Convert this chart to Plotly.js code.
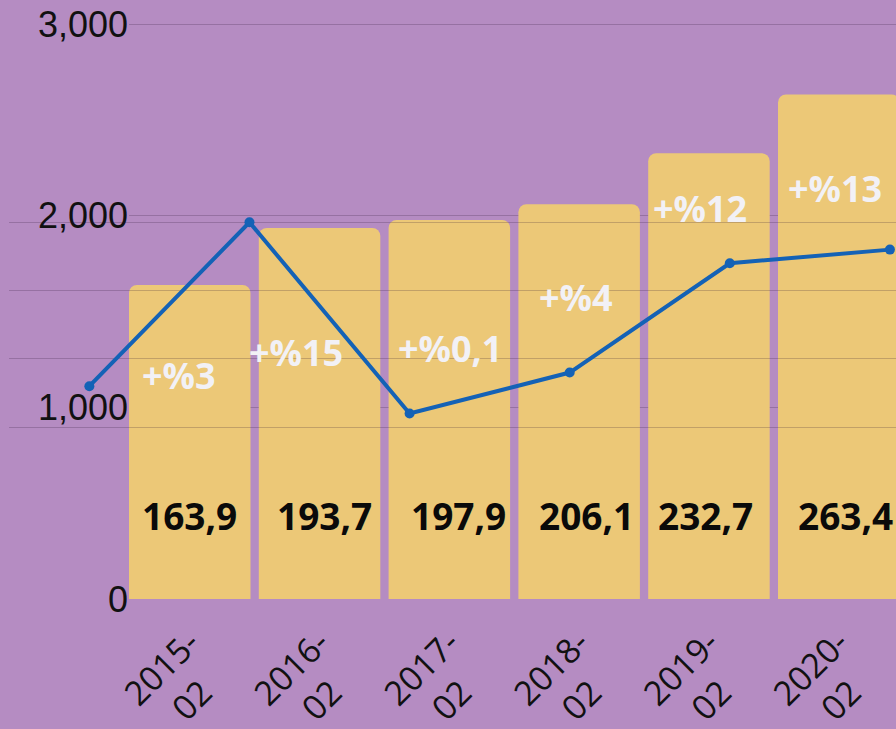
<!DOCTYPE html>
<html>
<head>
<meta charset="utf-8">
<script src="https://cdn.plot.ly/plotly-3.0.1.min.js"></script>
<style>
  html, body { margin: 0; padding: 0; background: #b58cc2; }
  #chart { width: 896px; height: 729px; }
</style>
</head>
<body>
<div id="chart"></div>
<script>
// ---- data ----
const categories = ['2015-02', '2016-02', '2017-02', '2018-02', '2019-02', '2020-02'];
const barValues  = [1639, 1937, 1979, 2061, 2327, 2634];
const lineValues = [3, 15, 1, 4, 12, 13];
const pctLabels  = ['+%3', '+%15', '+%0,1', '+%4', '+%12', '+%13'];
const yTicks     = [0, 1000, 2000, 3000];
const y2Ticks    = [0, 5, 10, 15];

// ---- label placement (layout only) ----
const pctLabelPos = [[-0.083, 1169], [0.819, 1289], [2.005, 1310], [2.976, 1576], [3.931, 2040], [4.971, 2144]];
const barLabelShift = [0, 5, 9, 7, -3, 7];
const barLabelY = 436;

const purple = '#b58cc2';
const gold = '#ecc877';
const blue = '#1462b6';
const grid = 'rgba(40,20,50,0.22)';

const barTrace = {
  type: 'bar',
  x: categories,
  y: barValues,
  xaxis: 'x',
  yaxis: 'y',
  marker: { color: gold, cornerradius: 8 },
  hoverinfo: 'skip',
  showlegend: false
};

const lineTrace = {
  type: 'scatter',
  mode: 'lines+markers',
  x: categories,
  y: lineValues,
  xaxis: 'x2',
  yaxis: 'y2',
  line: { color: blue, width: 4 },
  marker: { color: blue, size: 10 },
  cliponaxis: false,
  hoverinfo: 'skip',
  showlegend: false
};

const annotations = [];
pctLabels.forEach((t, i) => {
  annotations.push({
    xref: 'x', yref: 'y',
    x: pctLabelPos[i][0], y: pctLabelPos[i][1],
    text: t, showarrow: false,
    font: { family: 'Open Sans', size: 36, color: '#f2f1f6', weight: 700 }
  });
});
barValues.forEach((v, i) => {
  annotations.push({
    xref: 'x', yref: 'y',
    x: i, y: barLabelY, xshift: barLabelShift[i],
    text: (v / 10).toFixed(1).replace('.', ','),
    showarrow: false,
    font: { family: 'Open Sans', size: 37, color: '#0a0a0a', weight: 700 }
  });
});

const layout = {
  width: 896,
  height: 729,
  margin: { l: 0, r: 0, t: 0, b: 130, pad: 0 },
  paper_bgcolor: purple,
  plot_bgcolor: 'rgba(0,0,0,0)',
  bargap: 0.064,
  showlegend: false,
  xaxis: {
    type: 'category',
    domain: [129 / 896, 1],
    range: [-0.468, 5.441],
    tickvals: categories,
    ticktext: categories.map(c => c.replace('-', '-<br>') + '\u00a0\u00a0\u00a0'),
    tickangle: -45,
    ticklabelstandoff: 16,
    tickfont: { family: 'Open Sans', size: 34, color: '#111' },
    showgrid: false,
    zeroline: false,
    showline: false,
    ticks: '',
    automargin: false,
    anchor: 'y'
  },
  yaxis: {
    domain: [0, 1],
    range: [0, 3126.8],
    tickvals: yTicks,
    tickformat: ',d',
    tickfont: { family: 'Liberation Sans, Arial', size: 36, color: '#111' },
    showgrid: true,
    gridcolor: grid,
    gridwidth: 1,
    zeroline: false,
    showline: false,
    ticks: '',
    automargin: false,
    anchor: 'x'
  },
  xaxis2: {
    type: 'category',
    domain: [9.3 / 896, 1],
    range: [-0.5, 5.038],
    showticklabels: false,
    showgrid: false,
    zeroline: false,
    showline: false,
    ticks: '',
    anchor: 'y2'
  },
  yaxis2: {
    domain: [0, 1],
    range: [-12.577, 31.274],
    tickvals: y2Ticks,
    showticklabels: false,
    showgrid: true,
    gridcolor: grid,
    gridwidth: 1,
    zeroline: false,
    showline: false,
    ticks: '',
    anchor: 'x2'
  },
  annotations: annotations
};

Plotly.newPlot('chart', [barTrace, lineTrace], layout, { staticPlot: true, displayModeBar: false });
</script>
</body>
</html>
